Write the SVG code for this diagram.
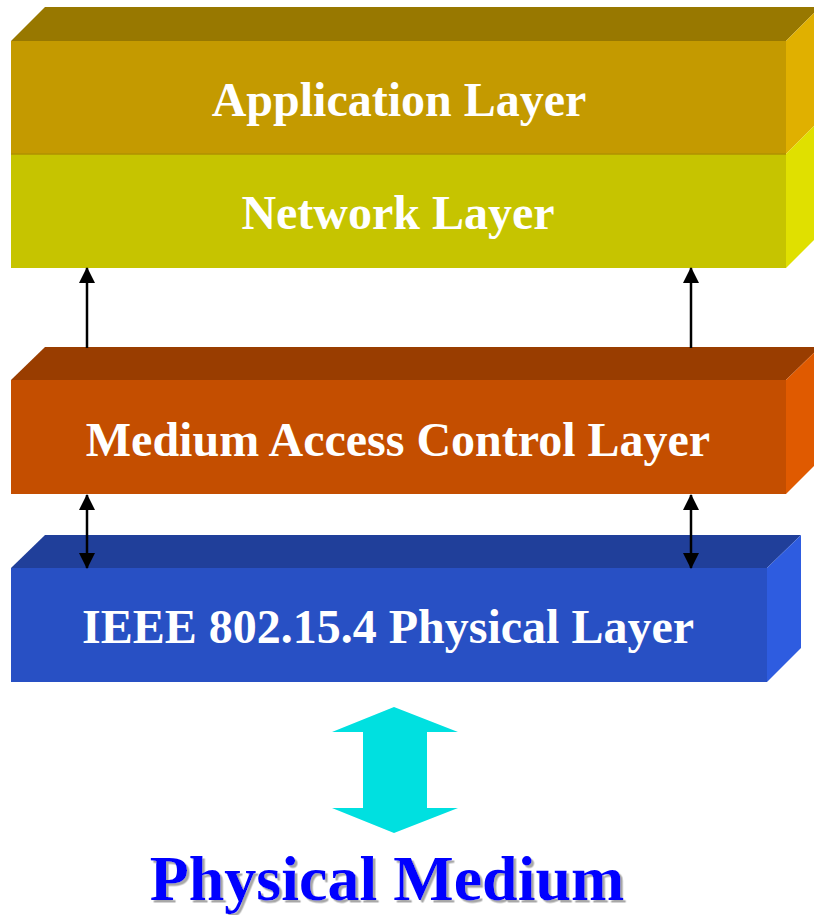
<svg xmlns="http://www.w3.org/2000/svg" width="814" height="915" viewBox="0 0 814 915">
  <defs>
    <style>
      .lbl { font-family: "Liberation Serif", "Times New Roman", serif; font-weight: bold; fill: #FFFFFF; text-anchor: middle; font-size: 48px; }
      .title { font-family: "Liberation Serif", "Times New Roman", serif; font-weight: bold; text-anchor: middle; font-size: 64px; fill: #0000FF; }
      .link { stroke: #000000; stroke-width: 2.5; fill: none; }
    </style>
    <filter id="shade" x="-5%" y="-20%" width="110%" height="140%">
      <feDropShadow dx="2.5" dy="2.5" stdDeviation="0.4" flood-color="#A8A8A8" flood-opacity="1"/>
    </filter>
    <marker id="head" viewBox="0 0 16 16" refX="15" refY="8" markerWidth="16" markerHeight="16" markerUnits="userSpaceOnUse" orient="auto-start-reverse">
      <path d="M0,0 L16,8 L0,16 Z" fill="#000000"/>
    </marker>
  </defs>
  <rect width="814" height="915" fill="#FFFFFF"/>

  <!-- Application layer block -->
  <g id="app-layer">
    <polygon points="11,41 45,7 820,7 786,41" fill="#987800"/>
    <polygon points="786,41 820,7 820,120 786,154" fill="#E0B000"/>
    <rect x="11" y="41" width="775" height="113" fill="#C49A00"/>
    <text class="lbl" x="399" y="116">Application Layer</text>
  </g>

  <!-- Network layer block -->
  <g id="network-layer">
    <polygon points="786,154 820,120 820,234 786,268" fill="#E0E000"/>
    <rect x="11" y="154" width="775" height="114" fill="#C6C400"/>
    <line x1="11" y1="154" x2="786" y2="154" stroke="#B09000" stroke-width="1.5"/>
    <text class="lbl" x="398" y="229">Network Layer</text>
  </g>

  <!-- Medium access control layer block -->
  <g id="mac-layer">
    <polygon points="11,380 45,347 820,347 786,380" fill="#993D00"/>
    <polygon points="786,380 820,347 820,460 786,494" fill="#E05A00"/>
    <rect x="11" y="380" width="775" height="114" fill="#C44E00"/>
    <text class="lbl" x="398" y="456">Medium Access Control Layer</text>
  </g>

  <!-- Physical layer block -->
  <g id="phy-layer">
    <polygon points="11,568 45,535 801,535 767,568" fill="#203F9A"/>
    <polygon points="767,568 801,535 801,648 767,682" fill="#2E5CE0"/>
    <rect x="11" y="568" width="756" height="114" fill="#2850C4"/>
    <text class="lbl" x="388" y="643">IEEE 802.15.4 Physical Layer</text>
  </g>

  <!-- Physical medium label and exchange arrow -->
  <g id="medium">
    <polygon points="394,707 458,732 427,732 427,808 458,808 394,833 332,808 363,808 363,732 332,732" fill="#00E0E0"/>
    <text class="title" x="387" y="900" filter="url(#shade)">Physical Medium</text>
  </g>

  <!-- Connectors between layers -->
  <g id="connectors">
    <line class="link" x1="87" y1="348" x2="87" y2="268" marker-end="url(#head)"/>
    <line class="link" x1="691" y1="348" x2="691" y2="268" marker-end="url(#head)"/>
    <line class="link" x1="87" y1="495" x2="87" y2="568" marker-start="url(#head)" marker-end="url(#head)"/>
    <line class="link" x1="691" y1="495" x2="691" y2="568" marker-start="url(#head)" marker-end="url(#head)"/>
  </g>
</svg>
